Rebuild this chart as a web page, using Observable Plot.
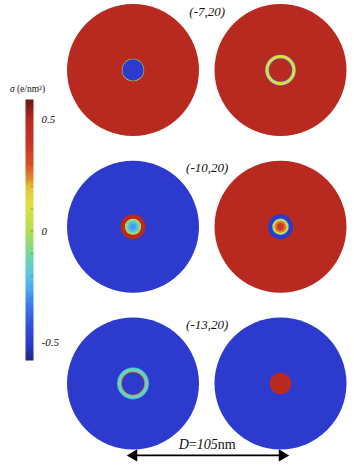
<!DOCTYPE html>
<html><head><meta charset="utf-8">
<script src="https://cdn.jsdelivr.net/npm/d3@7"></script>
<script src="https://cdn.jsdelivr.net/npm/@observablehq/plot@0.6"></script>
<style>
body{margin:0;background:#fff}
#wrap{position:relative;width:354px;height:474px}
#wrap svg{position:absolute;left:0;top:0;overflow:visible}
</style>
</head><body><div id="wrap"></div>
<script>
// ---- data ----
const rowTitles = ["(-7,20)", "(-10,20)", "(-13,20)"];
const columns = [0, 1];
const diameter = 105; // nm
// nested disks per panel (row, column): radius in nm, sigma in e/nm^2
const panelRow = [0,0,0, 0,0,0,0,0, 1,1,1,1,1,1, 1,1,1,1,1,1, 2,2,2,2,2, 2,2];
const panelCol = [0,0,0, 1,1,1,1,1, 0,0,0,0,0,0, 1,1,1,1,1,1, 0,0,0,0,0, 1,1];
const radius   = [52.5,8.9,8.5, 52.5,12.4,12.0,9.4,8.9, 52.5,9.9,6.4,5.8,4.2,2.4, 52.5,9.9,6.6,6.0,4.8,3.0, 52.5,12.8,12.2,9.4,8.8, 52.5,8.6];
const sigma    = [0.5,0.0,-0.5, 0.5,-0.35,0.14,-0.4,0.5, -0.5,0.5,0.1,-0.1,-0.22,-0.28, 0.5,-0.5,-0.15,0.1,0.25,0.38, -0.5,-0.3,-0.14,0.3,-0.5, -0.5,0.5];
// colour bar
const cbDomain = [-0.58,-0.5,-0.45,-0.35,-0.26,-0.19,-0.11,0,0.12,0.2,0.23,0.3,0.4,0.5,0.59];
const cbColors = ["#1e2888","#2c3bcd","#3048d8","#3c70e8","#4ca8f0","#5cc8e0","#70d8a0","#b0e050","#e0e040","#e6c03c","#e09030","#d85028","#c83424","#b82a1f","#6a1812"];
const cbTickLabels = [-0.5, 0, 0.5];
const cbMinorTicks = [-0.5,-0.4,-0.3,-0.2,-0.1,0,0.1,0.2,0.3,0.4,0.5];
const cbTitle = "σ (e/nm²)";
const sizeLabel = "D=105nm";

const disks = panelRow.map((r, i) => ({row: r, col: panelCol[i], radius: radius[i], sigma: sigma[i]}));
const R = diameter / 2;
const colorScale = {type: "linear", domain: cbDomain, range: cbColors, interpolate: "rgb", clamp: true};
const serif = "'Liberation Serif', 'DejaVu Serif', serif";

const main = Plot.plot({
  width: 354, height: 474,
  marginLeft: 66.5, marginRight: 8, marginTop: 3.5, marginBottom: 25,
  fx: {domain: columns, paddingInner: 0.105, paddingOuter: 0, round: false, axis: null},
  fy: {domain: [0, 1, 2], paddingInner: 0.157, paddingOuter: 0, round: false, axis: null},
  x: {domain: [-R, R], axis: null},
  y: {domain: [-R, R], axis: null},
  r: {type: "linear", domain: [0, R], range: [0, 66]},
  color: colorScale,
  marks: [
    Plot.dot(disks, {fx: "col", fy: "row", x: () => 0, y: () => 0, r: "radius", fill: "sigma", stroke: null}),
    Plot.text(rowTitles, {fx: () => 0, fy: (d, i) => i, x: () => 59, y: () => 46.5, text: d => d,
      fontSize: 13, fontFamily: serif, fontStyle: "italic", fill: "#111"}),
    Plot.link([sizeLabel], {fx: () => 0, fy: () => 2, x1: () => 2, x2: () => 117, y1: () => -57.2, y2: () => -57.2,
      stroke: "#000", strokeWidth: 1.6}),
    Plot.dot([-90, 90], {fx: () => 0, fy: () => 2, x: d => d < 0 ? 0.6 : 118.7, y: () => -57.2,
      symbol: "triangle", r: 4.5, fill: "#000", stroke: null, rotate: d => d}),
    Plot.text([sizeLabel], {fx: () => 0, fy: () => 2, x: () => 59, y: () => -48.5, text: d => d,
      fontSize: 14, fontFamily: serif, fill: "#111"})
  ]
});

const cb = Plot.plot({
  width: 60, height: 474,
  marginLeft: 25, marginRight: 27, marginTop: 99, marginBottom: 114,
  x: {domain: [0, 1], axis: null},
  y: {domain: [cbDomain[0], cbDomain[cbDomain.length - 1]], axis: null},
  color: colorScale,
  marks: [
    Plot.raster({x1: 0, x2: 1, y1: cbDomain[0], y2: cbDomain[cbDomain.length - 1], fill: (x, y) => y, pixelSize: 1}),
    Plot.ruleY(cbMinorTicks, {x1: 0.72, x2: 1, stroke: "#444", strokeWidth: 0.6, strokeOpacity: 0.7}),
    Plot.text(cbTickLabels, {x: () => 1, y: d => d, text: d => d === 0 ? "0" : String(d), dx: 8, textAnchor: "start",
      fontSize: 11, fontFamily: serif, fontStyle: "italic", fill: "#111"}),
    Plot.text([cbTitle], {x: () => 0.25, y: () => cbDomain[cbDomain.length - 1], dy: -11, text: d => d,
      fontSize: 9.5, fontFamily: serif, fill: "#111"})
  ]
});

const wrap = document.getElementById("wrap");
wrap.appendChild(main);
wrap.appendChild(cb);

// mixed styling (italic symbols) inside text
function restyle(svg, match, parts) {
  svg.querySelectorAll("text").forEach(t => {
    if (t.textContent === match) {
      const tgt = t.querySelector("tspan") || t;
      tgt.textContent = "";
      parts.forEach(([s, it]) => {
        const sp = document.createElementNS("http://www.w3.org/2000/svg", "tspan");
        sp.textContent = s;
        sp.setAttribute("font-style", it ? "italic" : "normal");
        tgt.appendChild(sp);
      });
    }
  });
}
restyle(main, sizeLabel, [["D", true], ["=", false], ["105", true], ["nm", false]]);
restyle(cb, cbTitle, [["σ", true], [" (e/nm²)", false]]);
</script></body></html>
